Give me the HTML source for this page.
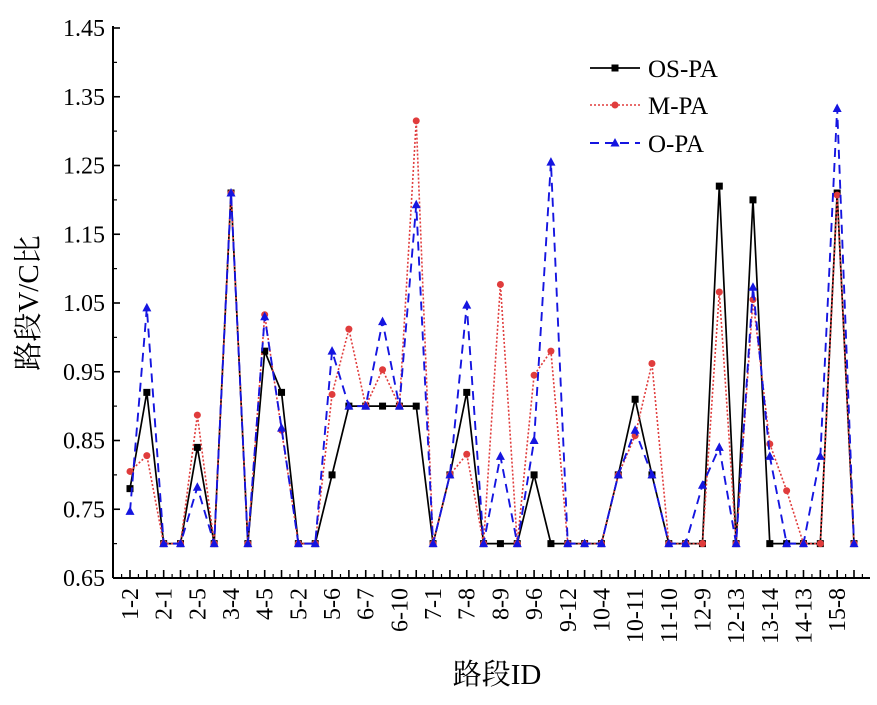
<!DOCTYPE html>
<html><head><meta charset="utf-8"><style>
body{margin:0;background:#fff}
svg{font-family:"Liberation Serif","Noto Serif CJK SC","Noto Sans CJK SC",serif}
</style></head><body>
<svg id="chart" width="877" height="700">
<g id="axes"></g><g id="series"></g><g id="legend"></g>
</svg>
<script>
const categories=["1-2","","2-1","","2-5","","3-4","","4-5","","5-2","","5-6","","6-7","","6-10","","7-1","","7-8","","8-9","","9-6","","9-12","","10-4","","10-11","","11-10","","12-9","","12-13","","13-14","","14-13","","15-8",""];
const osPA=[0.78,0.92,0.70,0.70,0.84,0.70,1.21,0.70,0.98,0.92,0.70,0.70,0.80,0.90,0.90,0.90,0.90,0.90,0.70,0.80,0.92,0.70,0.70,0.70,0.80,0.70,0.70,0.70,0.70,0.80,0.91,0.80,0.70,0.70,0.70,1.22,0.70,1.20,0.70,0.70,0.70,0.70,1.21,0.70];
const mPA=[0.805,0.828,0.70,0.70,0.887,0.70,1.21,0.70,1.033,0.865,0.70,0.70,0.917,1.012,0.90,0.953,0.90,1.315,0.70,0.80,0.83,0.70,1.077,0.70,0.945,0.98,0.70,0.70,0.70,0.80,0.857,0.962,0.70,0.70,0.70,1.066,0.70,1.055,0.845,0.777,0.70,0.70,1.207,0.70];
const oPA=[0.747,1.043,0.70,0.70,0.782,0.70,1.21,0.70,1.03,0.868,0.70,0.70,0.98,0.90,0.90,1.023,0.90,1.193,0.70,0.80,1.047,0.70,0.827,0.70,0.85,1.255,0.70,0.70,0.70,0.80,0.865,0.80,0.70,0.70,0.785,0.84,0.70,1.073,0.827,0.70,0.70,0.827,1.333,0.70];
const yTicks=[0.65,0.75,0.85,0.95,1.05,1.15,1.25,1.35,1.45];
const NS="http://www.w3.org/2000/svg";
const X0=113,X1=870,Y0=578,Y1=28;
const xs=i=>130+i*(854-130)/(categories.length-1);
const ys=v=>Y0-(v-0.65)/(1.45-0.65)*(Y0-Y1);
function mk(tag,attrs,parent){const e=document.createElementNS(NS,tag);for(const k in attrs)e.setAttribute(k,attrs[k]);parent.appendChild(e);return e;}
const axes=document.getElementById('axes');
let a=mk('line',{x1:X0,y1:Y1-2,x2:X0,y2:Y0,stroke:'#000','stroke-width':2},axes);


a=mk('line',{x1:X0,y1:Y0,x2:X1,y2:Y0,stroke:'#000','stroke-width':2},axes);


yTicks.forEach((t,k)=>{const y=ys(t);
 mk('line',{x1:X0,y1:y,x2:X0+7,y2:y,stroke:'#000','stroke-width':1.6},axes);
 if(k<yTicks.length-1)mk('line',{x1:X0,y1:ys(t+0.05),x2:X0+4,y2:ys(t+0.05),stroke:'#000','stroke-width':1.2},axes);
 const tx=mk('text',{x:X0-8,y:y+8,'text-anchor':'end','font-size':24},axes);tx.textContent=t.toFixed(2);
 
 
});
categories.forEach((c,i)=>{const x=xs(i);
 mk('line',{x1:x,y1:Y0,x2:x,y2:Y0-8,stroke:'#000','stroke-width':1.6},axes);
 mk('line',{x1:x-8.4,y1:Y0,x2:x-8.4,y2:Y0-4,stroke:'#000','stroke-width':1.2},axes);
 if(c){const tx=mk('text',{x:0,y:0,'text-anchor':'end','font-size':24,transform:`translate(${x+8},${Y0+10}) rotate(-90)`},axes);tx.textContent=c;
 
 }
});
mk('line',{x1:xs(43)+8.4,y1:Y0,x2:xs(43)+8.4,y2:Y0-4,stroke:'#000','stroke-width':1.2},axes);
let t=mk('text',{x:497,y:684,'text-anchor':'middle','font-size':29},axes);t.textContent='路段ID';


t=mk('text',{x:0,y:0,'text-anchor':'middle','font-size':29,transform:'translate(38,303) rotate(-90)'},axes);t.textContent='路段V/C比';


const ser=document.getElementById('series');
function marker(type,x,y,col,g){
 if(type==='sq')return mk('rect',{x:x-3.5,y:y-3.5,width:7,height:7,fill:col},g);
 if(type==='ci')return mk('circle',{cx:x,cy:y,r:3.5,fill:col},g);
 return mk('path',{d:`M${x},${y-5}L${x+4.5},${y+3.5}L${x-4.5},${y+3.5}Z`,fill:col},g);
}
const defs=[[osPA,'#000','','sq','os-pa',1.7],[mPA,'#e03c3c','2,2','ci','m-pa',1.6],[oPA,'#1515e0','9,6','tr','o-pa',1.9]];
defs.forEach(([d,col,dash,m,name,w])=>{
 const g=mk('g',{},ser);
 
 
 const p=mk('polyline',{points:d.map((v,i)=>xs(i)+','+ys(v)).join(' '),fill:'none',stroke:col,'stroke-width':w,'stroke-dasharray':dash},g);
 
 
 d.forEach((v,i)=>{const e=marker(m,xs(i),ys(v),col,g);
  
  });
});
const lg=document.getElementById('legend');


[['OS-PA','#000','','sq',68,1.7],['M-PA','#e03c3c','2,2','ci',105,1.6],['O-PA','#1515e0','9,6','tr',143,1.9]].forEach(([n,col,dash,m,y,w])=>{
 const g=mk('g',{},lg);
 
 
 mk('line',{x1:590,y1:y,x2:640,y2:y,stroke:col,'stroke-width':w,'stroke-dasharray':dash},g);
 marker(m,615,y,col,g);
 const tx=mk('text',{x:648,y:y+9,'font-size':25},g);tx.textContent=n;
});
</script>
</body></html>
